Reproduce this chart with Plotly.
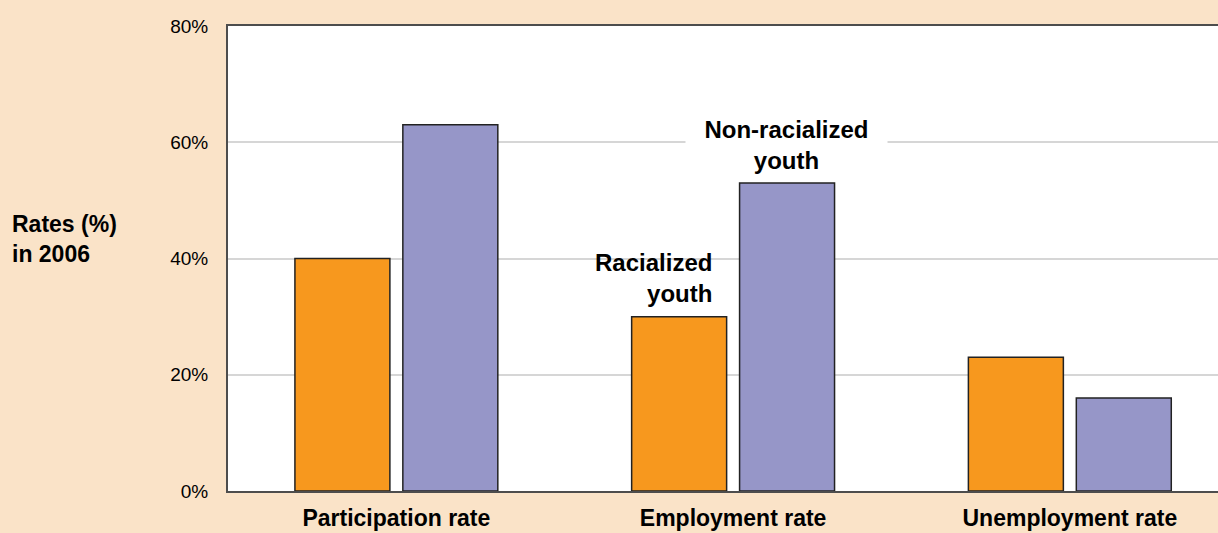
import plotly.graph_objects as go

categories = ["Participation rate", "Employment rate", "Unemployment rate"]
racialized = [40, 30, 23]
non_racialized = [63, 53, 16]
y_ticks = [0, 20, 40, 60, 80]
y_tick_labels = ["0%", "20%", "40%", "60%", "80%"]

BG = "#FAE3C8"
ORANGE = "#F7981E"
PURPLE = "#9696C8"
L, W = 228, 990  # plot left margin and width in px

fig = go.Figure()
fig.add_trace(go.Bar(x=categories, y=racialized, name="Racialized youth",
                     marker=dict(color=ORANGE, line=dict(color="#222222", width=1.5))))
fig.add_trace(go.Bar(x=categories, y=non_racialized, name="Non-racialized youth",
                     marker=dict(color=PURPLE, line=dict(color="#222222", width=1.5))))

fig.update_layout(
    width=1218, height=533,
    paper_bgcolor=BG, plot_bgcolor="white",
    margin=dict(l=L, r=0, t=26, b=42),
    barmode="group", bargap=0.359, bargroupgap=0.12,
    showlegend=False,
    font=dict(family="Liberation Sans, Arial, sans-serif", color="black"),
)
fig.update_xaxes(
    type="category", range=[-0.5, 2.44], automargin=False,
    showline=True, linecolor="#4d4d4d", linewidth=2, mirror=True,
    ticks="", showgrid=False,
    tickfont=dict(size=23, family="Liberation Sans, Arial, sans-serif", color="black", weight="bold"),
    ticklabelstandoff=5,
)
fig.update_yaxes(
    range=[0, 80], tickvals=y_ticks, ticktext=y_tick_labels, automargin=False,
    showline=True, linecolor="#4d4d4d", linewidth=2,
    showgrid=True, gridcolor="#D6D6D6", gridwidth=1.5, zeroline=False,
    ticks="", tickfont=dict(size=19, color="black"),
    ticklabelstandoff=14,
)

fig.add_annotation(text="<b>Rates (%)<br>in 2006</b>", xref="paper", yref="y",
                   x=(10 - L) / W, y=43.3, xanchor="left", yanchor="middle",
                   align="left", showarrow=False, font=dict(size=23, color="black"))
fig.add_annotation(text="<b>Non-racialized<br>youth</b>", xref="x", yref="y",
                   x=1.158, y=59.6, xanchor="center", yanchor="middle",
                   align="center", showarrow=False, width=199, bgcolor="white",
                   borderpad=1, font=dict(size=24, color="black"))
# white gap in the 40% gridline behind the "Racialized youth" label
fig.add_shape(type="rect", xref="paper", yref="y", layer="between",
              x0=(577 - L) / W, x1=(723 - L) / W, y0=38.5, y1=41.5,
              fillcolor="white", line=dict(width=0))
fig.add_annotation(text="<b>Racialized<br>youth</b>", xref="paper", yref="y",
                   x=(714 - L) / W, y=36.6, xanchor="right", yanchor="middle",
                   align="right", showarrow=False,
                   borderpad=1, font=dict(size=24, color="black"))

fig.write_html("out.html")
